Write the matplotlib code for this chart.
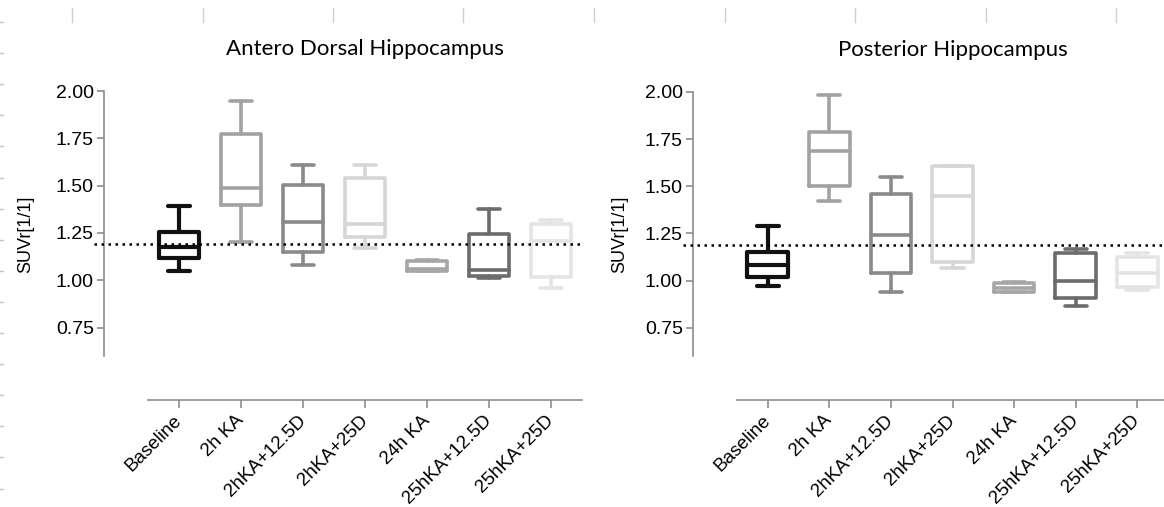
import numpy as np
import matplotlib
matplotlib.use("Agg")
import matplotlib.pyplot as plt
from matplotlib.lines import Line2D

# groups on the x axis
groups = ["Baseline", "2h KA", "2hKA+12.5D", "2hKA+25D",
          "24h KA", "25hKA+12.5D", "25hKA+25D"]
box_colors = ["#111111", "#a2a2a2", "#8a8a8a", "#d6d6d6",
              "#a6a6a6", "#6c6c6c", "#e4e4e4"]

# Antero Dorsal Hippocampus
ad_whislo = [1.05, 1.20, 1.08, 1.17, 1.048, 1.01, 0.96]
ad_q1 = [1.12, 1.40, 1.15, 1.23, 1.05, 1.025, 1.02]
ad_med = [1.175, 1.49, 1.31, 1.30, 1.06, 1.055, 1.21]
ad_q3 = [1.255, 1.775, 1.505, 1.54, 1.10, 1.245, 1.295]
ad_whishi = [1.39, 1.945, 1.61, 1.61, 1.105, 1.377, 1.32]

# Posterior Hippocampus
pp_whislo = [0.97, 1.42, 0.94, 1.067, 0.938, 0.865, 0.95]
pp_q1 = [1.02, 1.50, 1.04, 1.10, 0.94, 0.909, 0.967]
pp_med = [1.08, 1.685, 1.243, 1.45, 0.958, 0.998, 1.04]
pp_q3 = [1.15, 1.787, 1.46, 1.61, 0.985, 1.146, 1.125]
pp_whishi = [1.29, 1.985, 1.55, 1.61, 0.99, 1.167, 1.146]

reference_level = 1.19
yticks = [0.75, 1.00, 1.25, 1.50, 1.75, 2.00]

plt.rcParams["font.family"] = ["Liberation Sans", "DejaVu Sans"]

fig = plt.figure(figsize=(11.64, 5.07), dpi=100)

spine_col = "#8c8c8c"


def draw_panel(ax, title, lo, q1, med, q3, hi, ylab_x):
    stats = []
    for i in range(len(groups)):
        stats.append({"whislo": lo[i], "q1": q1[i], "med": med[i],
                      "q3": q3[i], "whishi": hi[i], "label": groups[i]})
    pos = np.arange(len(groups))
    arts = ax.bxp(stats, positions=pos, widths=0.66, capwidths=0.36,
                  showfliers=False, patch_artist=False)
    for i, c in enumerate(box_colors):
        lw = 3.0 if i == 0 else 2.6
        for key in ["boxes", "medians"]:
            arts[key][i].set_color(c)
            arts[key][i].set_linewidth(lw)
            arts[key][i].set_solid_capstyle("round")
            arts[key][i].set_solid_joinstyle("round")
        for key in ["whiskers", "caps"]:
            for ln in arts[key][2 * i:2 * i + 2]:
                ln.set_color(c)
                ln.set_linewidth(lw)
                ln.set_solid_capstyle("round")

    ax.axhline(reference_level, xmin=-0.125, xmax=1.0, color="black",
               lw=1.8, linestyle=(0, (1, 1.8)), clip_on=False, zorder=5)

    # spines first: moving them resets the ticks
    for s in ["top", "right"]:
        ax.spines[s].set_visible(False)
    ax.spines["left"].set_position(("outward", 32))
    ax.spines["bottom"].set_position(("outward", 31.5))
    for s in ["left", "bottom"]:
        ax.spines[s].set_color(spine_col)
        ax.spines[s].set_linewidth(1.2)

    ax.set_xlim(-0.5, 6.5)
    ax.set_ylim(0.6, 2.0)
    ax.tick_params(axis="both", labelsize=14, colors=spine_col,
                   labelcolor="black", width=1.2)
    ax.tick_params(axis="y", length=5, pad=2)
    ax.tick_params(axis="x", length=6, pad=7)
    ax.set_yticks(yticks)
    ax.set_yticklabels([f"{v:.2f}" for v in yticks])
    ax.set_xticks(pos)
    ax.set_xticklabels(groups, rotation=45, ha="right", va="center",
                       rotation_mode="anchor", fontsize=13.5)
    ax.set_ylabel("SUVr[1/1]", fontsize=13)
    ax.yaxis.set_label_coords(ylab_x, 0.46)
    ax.set_title(title, fontsize=16, family=["Lato", "DejaVu Sans"],
                 pad=26)
    ax.patch.set_visible(False)


ax1 = fig.add_axes([148 / 1164, 1 - 356 / 507, 434 / 1164, 265 / 507])
draw_panel(ax1, "Antero Dorsal Hippocampus",
           ad_whislo, ad_q1, ad_med, ad_q3, ad_whishi, -0.263)

ax2 = fig.add_axes([737 / 1164, 1 - 356 / 507, 431 / 1164, 264 / 507])
draw_panel(ax2, "Posterior Hippocampus",
           pp_whislo, pp_q1, pp_med, pp_q3, pp_whishi, -0.253)

# faint ruler marks from the page around the chart
for xp in np.arange(72, 1164, 130.5):
    fig.add_artist(Line2D([xp / 1164, xp / 1164], [1 - 8 / 507, 1 - 22 / 507],
                          color="#cfcfcf", lw=1.0))
for yp in np.arange(22, 507, 31.1):
    fig.add_artist(Line2D([0, 2.5 / 1164], [1 - yp / 507, 1 - yp / 507],
                          color="#c4c4c4", lw=1.0))

fig.savefig("out.png", dpi=100)
